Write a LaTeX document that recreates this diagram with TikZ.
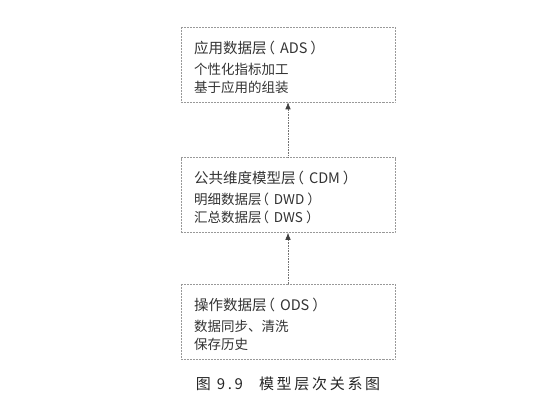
\documentclass[tikz,border=0pt]{standalone}
\usepackage{fontspec}
\setmainfont{Noto Sans CJK SC}
\newfontfamily\capfont[LetterSpace=18]{Noto Sans CJK SC}
\usetikzlibrary{positioning,arrows.meta}

% fullwidth brackets, set closer to the words as in the print
\newcommand{\lbr}{\hspace{-6bp}（\hspace{5bp}}
\newcommand{\rbr}{\hspace{3bp}）}
\newcommand{\layertitle}[1]{{\fontsize{14.5bp}{18bp}\selectfont\rule{0pt}{17.5bp}#1}}

\begin{document}
\begin{tikzpicture}[x=1bp, y=1bp,
        layer/.style={draw=black!40, densely dotted, line width=.5bp,
            minimum width=214bp, minimum height=75bp, text width=188bp,
            align=left, inner sep=0bp, text=black!80,
            font=\fontsize{13.5bp}{18bp}\selectfont},
        uparrow/.style={draw=black!55, densely dotted, line width=.6bp,
            -{Latex[length=7bp, width=5.5bp, color=black!75]}}
    ]
    \useasboundingbox (0,0) rectangle (552,-412);

    \node[layer] (ads) at (288,-64.5)
        {\layertitle{应用数据层\lbr ADS\rbr}\\[3bp]
         个性化指标加工\\
         基于应用的组装};
    \node[layer, below=55bp of ads] (cdm)
        {\layertitle{公共维度模型层\lbr CDM\rbr}\\[3bp]
         明细数据层\lbr DWD\rbr\\
         汇总数据层\lbr DWS\rbr};
    \node[layer, below=51bp of cdm] (ods)
        {\layertitle{操作数据层\lbr ODS\rbr}\\[3bp]
         数据同步、清洗\\
         保存历史};

    \draw[uparrow] (ods.north) -- (cdm.south);
    \draw[uparrow] (cdm.north) -- (ads.south);

    % caption
    \node[text=black!85] (caption) at (288,-384)
        {\capfont\fontsize{15bp}{18bp}\selectfont 图 9.9\hspace{16bp}模型层次关系图};
\end{tikzpicture}
\end{document}
